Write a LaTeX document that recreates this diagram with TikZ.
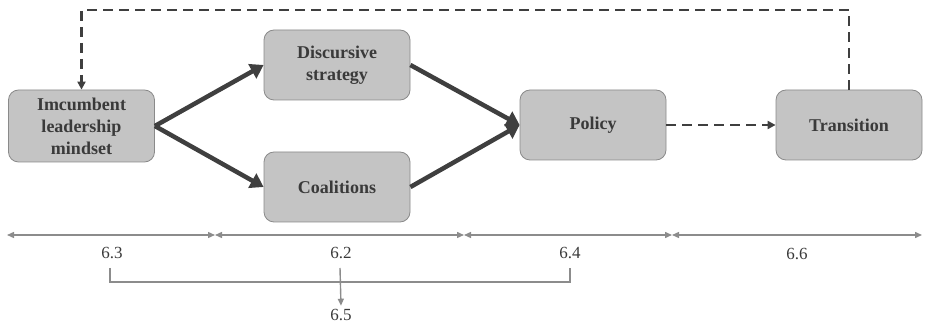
\documentclass[tikz,border=0pt]{standalone}
\usepackage{fontspec}
\setmainfont{Liberation Serif}
\usetikzlibrary{arrows.meta}
\definecolor{boxfill}{HTML}{C4C4C4}
\definecolor{boxline}{HTML}{8A8A8A}
\definecolor{flow}{HTML}{3F3F3F}
\definecolor{ruler}{HTML}{8C8C8C}
\definecolor{txt}{HTML}{3A3A3A}
\tikzset{
  stagebox/.style={draw=boxline, fill=boxfill, rounded corners=10pt, line width=0.8pt,
    minimum width=146pt, minimum height=70pt, align=center, text=txt,
    font=\fontsize{18}{22}\selectfont\bfseries},
  flowarrow/.style={draw=flow, line width=4.5pt, -{Triangle[length=13pt,width=16pt]}},
  dasharrow/.style={draw=flow, line width=2.4pt, dash pattern=on 10pt off 6pt, -{Triangle[length=8pt,width=8pt]}},
  span/.style={draw=ruler, line width=1.4pt, {Triangle[length=7pt,width=6pt]}-{Triangle[length=7pt,width=6pt]}},
  bracket/.style={draw=ruler, line width=1.4pt},
  tag/.style={text=txt, font=\fontsize{17}{19}\selectfont}
}
\begin{document}
\begin{tikzpicture}[x=1pt,y=-1pt]
\useasboundingbox (0,0) rectangle (925,328);

% stage boxes
\node[stagebox, minimum height=72pt] (mind) at (81.5,126) {Imcumbent\\leadership\\mindset};
\node[stagebox] (disc) at (337,65) {Discursive\\strategy};
\node[stagebox] (coal) at (337,187) {Coalitions};
\node[stagebox] (pol) at (593,125) {Policy};
\node[stagebox] (tran) at (849,125) {Transition};

% main flow
\draw[flowarrow] (mind.east) -- (disc.west);
\draw[flowarrow] (mind.east) -- (coal.west);
\draw[flowarrow] (disc.east) -- (pol.west);
\draw[flowarrow] (coal.east) -- (pol.west);

% feedback loop
\draw[dasharrow] (pol.east) -- (tran.west);
\coordinate (loopR) at (849,10);
\coordinate (loopL) at (81.5,10);
\draw[dasharrow] (tran.north) -- (loopR) -- (loopL) -- (mind.north);

% section ruler
\coordinate (r0) at (7,235);
\coordinate (r1) at (215,235);
\coordinate (r2) at (464,235);
\coordinate (r3) at (672,235);
\coordinate (r4) at (922,235);
\draw[span] (r0) -- (r1);
\draw[span] (r1) -- (r2);
\draw[span] (r2) -- (r3);
\draw[span] (r3) -- (r4);

\node[tag] (s63) at (112,253) {6.3};
\node[tag] (s62) at (341,253) {6.2};
\node[tag] (s64) at (570,253) {6.4};
\node[tag] (s66) at (797,254) {6.6};
\node[tag] (s65) at (341,315) {6.5};

% bracket joining 6.3, 6.2 and 6.4
\coordinate (b1) at (110,268);
\coordinate (b2) at (110,282);
\coordinate (b3) at (570,282);
\coordinate (b4) at (570,268);
\coordinate (bm) at (340,268);
\draw[bracket] (b1) -- (b2) -- (b3) -- (b4);
\draw[bracket, -{Triangle[length=7pt,width=6pt]}] (bm) -- (s65.north);
\end{tikzpicture}
\end{document}
